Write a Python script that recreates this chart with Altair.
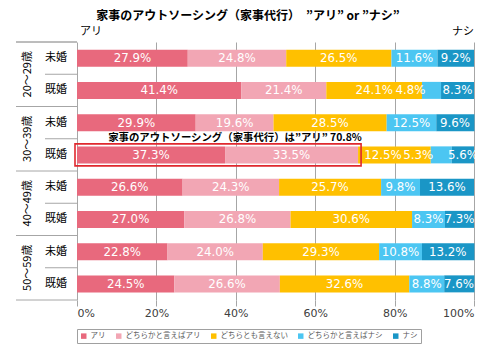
import altair as alt
import pandas as pd

JP = "Noto Sans CJK JP"

groups = ["20～29歳", "30～39歳", "40～49歳", "50～59歳"]
statuses = ["未婚", "既婚"]
categories = ["アリ", "どちらかと言えばアリ", "どちらとも言えない", "どちらかと言えばナシ", "ナシ"]
colors = ["#E8697D", "#F2A6B4", "#FFC000", "#4CC6F2", "#1A96C6"]

# bar lengths (rows: 20代未婚, 20代既婚, 30代未婚, 30代既婚, ...)
ari        = [27.9, 41.4, 29.9, 37.3, 26.6, 27.0, 22.8, 24.5]
yaya_ari   = [24.8, 21.4, 19.6, 33.5, 24.3, 26.8, 24.0, 26.6]
neutral    = [26.5, 24.1, 28.5, 18.3, 25.7, 30.6, 29.3, 32.6]
yaya_nashi = [11.6, 4.8, 12.5, 5.3, 9.8, 8.3, 10.8, 8.8]
nashi      = [9.2, 8.3, 9.6, 5.6, 13.6, 7.3, 13.2, 7.6]
# printed label numbers (the 30代既婚 neutral label reads 12.5%)
neutral_label = [26.5, 24.1, 28.5, 12.5, 25.7, 30.6, 29.3, 32.6]

highlight_text = "家事のアウトソーシング（家事代行）は”アリ” 70.8%"
title_text = "家事のアウトソーシング（家事代行）　”アリ” or ”ナシ”"

row_ids = [f"r{i}" for i in range(8)]
series_vals = [ari, yaya_ari, neutral, yaya_nashi, nashi]
series_labs = [ari, yaya_ari, neutral_label, yaya_nashi, nashi]

recs = []
for i, rid in enumerate(row_ids):
    for k, cat in enumerate(categories):
        recs.append({
            "row": rid, "k": k, "cat": cat,
            "value": series_vals[k][i], "lab": series_labs[k][i],
            "text": f"{series_labs[k][i]:.1f}%",
        })
df = pd.DataFrame(recs)

yenc = alt.Y("row:N", sort=row_ids, axis=None,
             scale=alt.Scale(domain=row_ids, paddingInner=0, paddingOuter=0))

bars = alt.Chart(df).transform_stack(
    stack="value", groupby=["row"], sort=[alt.SortField("k")], as_=["x0", "x1"]
).mark_bar(size=17).encode(
    x=alt.X("x0:Q", scale=alt.Scale(domain=[0, 100], nice=False),
            axis=alt.Axis(values=[0, 20, 40, 60, 80, 100], labelExpr="datum.value + '%'",
                          grid=True, gridColor="#A6A6A6", domain=False, ticks=True,
                          tickSize=6, tickColor="#A6A6A6", labelPadding=1,
                          labelFontSize=11, labelFont="DejaVu Sans", labelColor="#404040",
                          title=None)),
    x2="x1:Q",
    y=yenc,
    color=alt.Color("cat:N", sort=categories,
                    scale=alt.Scale(domain=categories, range=colors),
                    legend=alt.Legend(orient="none", legendX=0, legendY=287,
                                      direction="horizontal", title=None,
                                      strokeColor="#A0A0A0", padding=3,
                                      symbolType="square", symbolSize=30,
                                      symbolStrokeWidth=0,
                                      labelFontSize=7.5, labelFont=JP,
                                      labelColor="#595959", columnPadding=9,
                                      labelOffset=3)),
    order=alt.Order("k:Q"),
)

labels = alt.Chart(df).transform_stack(
    stack="lab", groupby=["row"], sort=[alt.SortField("k")], as_=["l0", "l1"]
).transform_calculate(
    mid="datum.k == 4 ? 100 - datum.lab / 2 : (datum.lab < 5 ? (datum.l0 + datum.l1) / 2 - 5.3 : (datum.l0 + datum.l1) / 2)"
).mark_text(
    color="white", font="DejaVu Sans", fontSize=11.8
).encode(x="mid:Q", y=yenc, text="text:N")

# left-hand row labels
left_df = pd.DataFrame({
    "row": row_ids,
    "status": statuses * 4,
})
status_text = alt.Chart(left_df).mark_text(font=JP, fontSize=11, color="#000000").encode(
    x=alt.value(-21), y=yenc, text="status:N")

grp_df = pd.DataFrame({"row": row_ids[1::2], "grp": groups})
grp_text = alt.Chart(grp_df).mark_text(font=JP, fontSize=11, angle=270, color="#000000").encode(
    x=alt.value(-49), y=alt.Y("row:N", sort=row_ids, axis=None, bandPosition=0), text="grp:N")

# separators
grp_lines = alt.Chart(pd.DataFrame({"row": row_ids[0::2]})).mark_rule(color="#A6A6A6").encode(
    x=alt.value(-61), x2=alt.value(0), y=alt.Y("row:N", sort=row_ids, axis=None, bandPosition=0))
bottom_line = alt.Chart(pd.DataFrame({"row": row_ids[-1:]})).mark_rule(color="#A6A6A6").encode(
    x=alt.value(-61), x2=alt.value(0), y=alt.Y("row:N", sort=row_ids, axis=None, bandPosition=1))
sub_lines = alt.Chart(pd.DataFrame({"row": row_ids[1::2]})).mark_rule(color="#A6A6A6").encode(
    x=alt.value(-32), x2=alt.value(0), y=alt.Y("row:N", sort=row_ids, axis=None, bandPosition=0))

# highlight box around 30代既婚 アリ total
hl_df = pd.DataFrame({"row": [row_ids[3]], "x0": [0.0], "x1": [ari[3] + yaya_ari[3]],
                      "t": [highlight_text]})
hl_box = alt.Chart(hl_df).mark_bar(size=22, filled=False, stroke="#E0282E", strokeWidth=1.6,
                                   xOffset=-2, x2Offset=3).encode(
    x="x0:Q", x2="x1:Q", y=yenc)
hl_text = alt.Chart(hl_df).mark_text(font=JP, fontSize=10.4, fontWeight="bold", color="#000000",
                                     dy=-1).encode(
    x=alt.value(158), y=alt.Y("row:N", sort=row_ids, axis=None, bandPosition=0), text="t:N")

title = alt.Chart(pd.DataFrame({"t": [title_text]})).mark_text(
    font=JP, fontSize=12, fontWeight="bold", color="#000000").encode(
    x=alt.value(171), y=alt.value(-26), text="t:N")
top_left = alt.Chart(pd.DataFrame({"t": ["アリ"]})).mark_text(
    font=JP, fontSize=11, color="#000000", align="left").encode(
    x=alt.value(3), y=alt.value(-10), text="t:N")
top_right = alt.Chart(pd.DataFrame({"t": ["ナシ"]})).mark_text(
    font=JP, fontSize=11, color="#000000", align="right").encode(
    x=alt.value(397), y=alt.value(-10), text="t:N")
top_frame = alt.Chart(pd.DataFrame({"a": [0]})).mark_rule(color="#A6A6A6").encode(
    x=alt.value(-61), x2=alt.value(0), y=alt.value(0))

chart = alt.layer(
    bars, labels, grp_lines, bottom_line, sub_lines, top_frame,
    status_text, grp_text, hl_box, hl_text, title, top_left, top_right
).properties(
    width=397, height=258,
    padding={"left": 77, "top": 42, "right": 26, "bottom": 50},
    autosize="none",
    background="white",
).configure_view(stroke=None)

chart.save("out.html", embed_options={"renderer": "svg", "actions": False})
